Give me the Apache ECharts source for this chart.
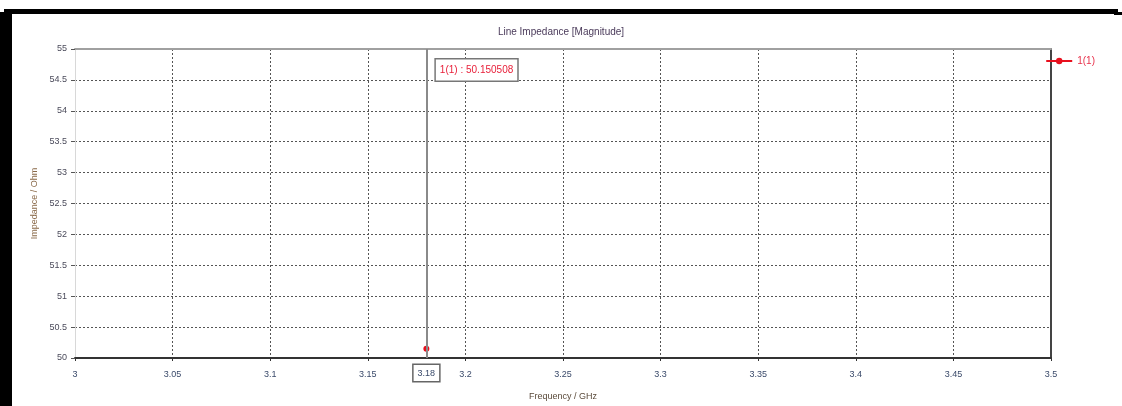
<!DOCTYPE html>
<html>
<head>
<meta charset="utf-8">
<script src="https://cdn.jsdelivr.net/npm/echarts@6/dist/echarts.min.js"></script>
<style>
  html, body { margin: 0; padding: 0; background: #fff; }
  #main { width: 1122px; height: 406px; }
</style>
</head>
<body>
<div id="main"></div>
<script>
// data
var freq = [3.18];                 // GHz
var impedance = [50.150508];       // Ohm
var markerFreq = 3.18;
var seriesName = '1(1)';
var xMin = 3, xMax = 3.5, xStep = 0.05;
var yMin = 50, yMax = 55, yStep = 0.5;

var chart = echarts.init(document.getElementById('main'));
var font = 'Liberation Sans';
var fmt = function (v) { return String(+v.toFixed(2)); };

chart.setOption({
  animation: false,
  backgroundColor: '#fff',
  textStyle: { fontFamily: font },
  title: {
    text: 'Line Impedance [Magnitude]',
    left: 'center', top: 22,
    textStyle: { fontSize: 10, fontWeight: 'normal', color: '#4a3a5a', fontFamily: font }
  },
  legend: {
    right: 22, top: 51,
    itemWidth: 26, itemHeight: 8,
    textStyle: { color: '#e8304a', fontSize: 10 },
    data: [seriesName]
  },
  grid: { left: 75, right: 71, top: 49, bottom: 44 },
  xAxis: [{
    type: 'value', min: xMin, max: xMax, interval: xStep,
    name: 'Frequency / GHz', nameLocation: 'middle', nameGap: 34,
    nameTextStyle: { fontSize: 9, color: '#5a4a3a' },
    axisLine: { show: true, onZero: false, lineStyle: { color: '#333', width: 2 } },
    axisTick: { show: true, length: 3, lineStyle: { color: '#333' } },
    axisLabel: { fontSize: 9, color: '#3a4a6a', margin: 12, formatter: fmt },
    splitLine: { show: true, lineStyle: { color: '#555', type: [2, 2], width: 1 } }
  }, {
    type: 'value', position: 'top', min: xMin, max: xMax, interval: xStep,
    axisLine: { show: true, lineStyle: { color: '#a0a0a0', width: 2 } },
    axisTick: { show: false }, axisLabel: { show: false }, splitLine: { show: false }
  }],
  yAxis: [{
    type: 'value', min: yMin, max: yMax, interval: yStep,
    name: 'Impedance / Ohm', nameLocation: 'middle', nameGap: 36,
    nameTextStyle: { fontSize: 9, color: '#8a6a4a' },
    axisLine: { show: true, onZero: false, lineStyle: { color: '#d8d8d8', width: 1 } },
    axisTick: { show: true, length: 4, lineStyle: { color: '#555' } },
    axisLabel: { fontSize: 9, color: '#4a4a5a', margin: 8, formatter: fmt },
    splitLine: { show: true, lineStyle: { color: '#555', type: [2, 2], width: 1 } }
  }, {
    type: 'value', position: 'right', min: yMin, max: yMax, interval: yStep,
    axisLine: { show: true, lineStyle: { color: '#444', width: 2 } },
    axisTick: { show: false }, axisLabel: { show: false }, splitLine: { show: false }
  }],
  series: [{
    name: seriesName,
    type: 'line',
    color: '#e8101e',
    symbol: 'circle', symbolSize: 6,
    data: freq.map(function (f, i) { return [f, impedance[i]]; }),
    markLine: {
      silent: true, symbol: 'none',
      lineStyle: { color: '#8a8a8a', type: 'solid', width: 2 },
      label: {
        position: 'start', distance: 7,
        formatter: fmt(markerFreq),
        color: '#3a4a6a', fontSize: 9,
        backgroundColor: '#fff', borderColor: '#666', borderWidth: 1.5,
        padding: [4, 4, 3, 4]
      },
      data: [{ xAxis: markerFreq }]
    },
    markPoint: {
      silent: true, symbol: 'circle', symbolSize: 1,
      itemStyle: { color: 'rgba(0,0,0,0)' },
      label: {
        show: true, position: 'right', offset: [4, 21],
        formatter: seriesName + ' : ' + impedance[0].toFixed(6),
        color: '#e8203a', fontSize: 10,
        backgroundColor: '#fff', borderColor: '#777', borderWidth: 1.5,
        padding: [6, 4, 5, 4]
      },
      data: [{ coord: [markerFreq, yMax] }]
    }
  }],
  graphic: [
    { type: 'rect', shape: { x: 0, y: 12, width: 12, height: 394 }, style: { fill: '#000' } },
    { type: 'rect', shape: { x: 4, y: 9, width: 1114, height: 5 }, style: { fill: '#000' } },
    { type: 'rect', shape: { x: 1114, y: 12, width: 8, height: 3 }, style: { fill: '#000' } }
  ]
});
</script>
</body>
</html>
